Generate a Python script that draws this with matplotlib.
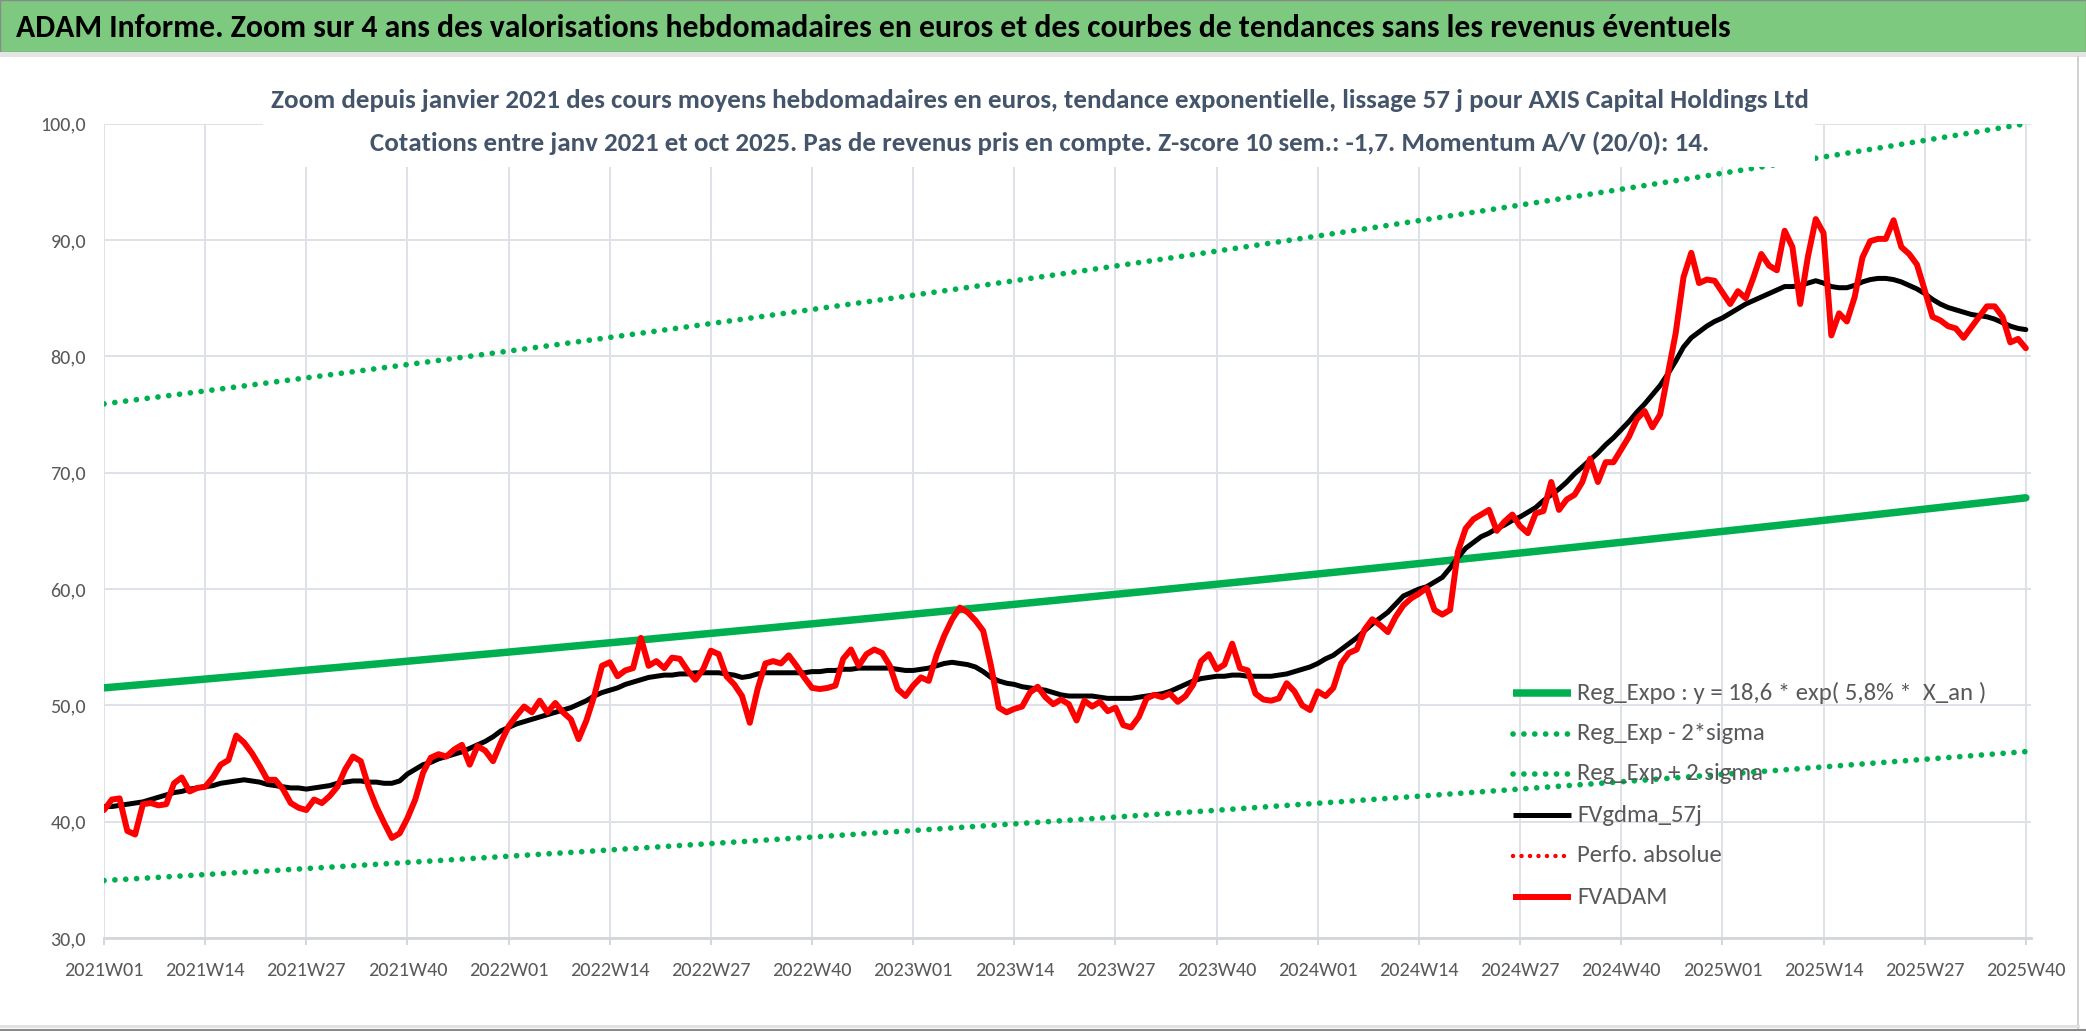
import numpy as np
import matplotlib
matplotlib.use("Agg")
import matplotlib.pyplot as plt
from matplotlib import font_manager
from matplotlib.patches import Rectangle
from matplotlib.lines import Line2D

# ---------------- data ----------------
title = ("ADAM Informe. Zoom sur 4 ans des valorisations hebdomadaires en euros "
         "et des courbes de tendances sans les revenus éventuels")
subtitle1 = ("Zoom depuis janvier 2021 des cours moyens hebdomadaires en euros, tendance "
             "exponentielle, lissage 57 j pour AXIS Capital Holdings Ltd")
subtitle2 = ("Cotations entre janv 2021 et oct 2025. Pas de revenus pris en compte. "
             "Z-score 10 sem.: -1,7. Momentum A/V (20/0): 14.")

tick_labels = ["2021W01", "2021W14", "2021W27", "2021W40",
               "2022W01", "2022W14", "2022W27", "2022W40",
               "2023W01", "2023W14", "2023W27", "2023W40",
               "2024W01", "2024W14", "2024W27", "2024W40",
               "2025W01", "2025W14", "2025W27", "2025W40"]
weeks_per_year = 52
tick_step = 13

legend_labels = ["Reg_Expo : y = 18,6 * exp( 5,8% *  X_an )",
                 "Reg_Exp - 2*sigma",
                 "Reg_Exp + 2 sigma",
                 "FVgdma_57j",
                 "Perfo. absolue",
                 "FVADAM"]

# regression parameters (from the chart's legend equation)
reg_a = 18.6
reg_rate = 0.058
reg_x0_years = 17.56      # X_an at 2021W01
reg_sigma = 0.194         # log-sigma of the bands

fvadam = [
    41.0, 41.9, 42.0, 39.2, 38.9, 41.5, 41.6, 41.4, 41.5, 43.3,
    43.8, 42.6, 42.9, 43.0, 43.8, 44.9, 45.3, 47.4, 46.8, 45.9,
    44.8, 43.6, 43.6, 42.8, 41.6, 41.2, 41.0, 41.9, 41.6, 42.2,
    43.0, 44.5, 45.6, 45.2, 43.0, 41.3, 39.9, 38.6, 39.0, 40.3,
    41.9, 44.2, 45.5, 45.8, 45.6, 46.2, 46.6, 44.9, 46.5, 46.1,
    45.2, 46.8, 48.2, 49.1, 49.9, 49.4, 50.4, 49.4, 50.2, 49.4,
    48.8, 47.1, 48.7, 50.8, 53.4, 53.7, 52.5, 53.0, 53.2, 55.8,
    53.4, 53.8, 53.2, 54.1, 54.0, 53.0, 52.2, 53.1, 54.7, 54.4,
    52.5, 51.8, 50.8, 48.5, 51.4, 53.6, 53.8, 53.6, 54.3, 53.4,
    52.4, 51.5, 51.4, 51.5, 51.7, 54.0, 54.8, 53.4, 54.4, 54.8,
    54.5, 53.4, 51.4, 50.8, 51.7, 52.4, 52.1, 54.3, 56.0, 57.4,
    58.4, 58.0, 57.3, 56.4, 53.4, 49.8, 49.4, 49.7, 49.9, 51.1,
    51.6, 50.7, 50.1, 50.5, 50.1, 48.7, 50.4, 49.9, 50.3, 49.5,
    49.8, 48.3, 48.1, 49.0, 50.6, 50.9, 50.7, 51.0, 50.3, 50.8,
    51.8, 53.8, 54.4, 53.1, 53.5, 55.3, 53.2, 53.0, 51.0, 50.5,
    50.4, 50.6, 51.9, 51.2, 50.0, 49.6, 51.2, 50.8, 51.5, 53.6,
    54.5, 54.8, 56.5, 57.4, 56.9, 56.3, 57.6, 58.6, 59.2, 59.6,
    60.1, 58.2, 57.8, 58.2, 63.2, 65.2, 66.0, 66.4, 66.8, 65.0,
    65.8, 66.4, 65.4, 64.8, 66.5, 66.7, 69.2, 66.8, 67.7, 68.1,
    69.2, 71.2, 69.2, 70.9, 70.9, 72.0, 73.1, 74.6, 75.3, 73.9,
    75.0, 78.5, 82.0, 86.8, 88.9, 86.3, 86.6, 86.5, 85.5, 84.5,
    85.6, 85.0, 86.8, 88.8, 87.8, 87.4, 90.8, 89.4, 84.5, 88.6,
    91.8, 90.6, 81.8, 83.7, 83.0, 85.1, 88.5, 89.9, 90.1, 90.1,
    91.7, 89.4, 88.8, 87.9, 85.7, 83.4, 83.1, 82.6, 82.4, 81.6,
    82.5, 83.4, 84.3, 84.3, 83.4, 81.2, 81.5, 80.7,
]

fvgdma_57j = [
    41.3, 41.3, 41.4, 41.5, 41.6, 41.7, 41.9, 42.1, 42.3, 42.5,
    42.6, 42.8, 42.9, 43.0, 43.1, 43.3, 43.4, 43.5, 43.6, 43.5,
    43.4, 43.2, 43.1, 43.0, 42.9, 42.9, 42.8, 42.9, 43.0, 43.1,
    43.3, 43.4, 43.5, 43.5, 43.4, 43.4, 43.3, 43.3, 43.5, 44.1,
    44.5, 44.9, 45.1, 45.4, 45.6, 45.8, 46.0, 46.3, 46.6, 46.9,
    47.3, 47.8, 48.1, 48.4, 48.6, 48.8, 49.0, 49.2, 49.4, 49.6,
    49.8, 50.1, 50.4, 50.8, 51.1, 51.3, 51.5, 51.8, 52.0, 52.2,
    52.4, 52.5, 52.6, 52.6, 52.7, 52.7, 52.8, 52.8, 52.8, 52.8,
    52.7, 52.6, 52.4, 52.5, 52.7, 52.8, 52.8, 52.8, 52.8, 52.8,
    52.8, 52.9, 52.9, 53.0, 53.0, 53.1, 53.1, 53.2, 53.2, 53.2,
    53.2, 53.2, 53.1, 53.0, 53.0, 53.1, 53.2, 53.4, 53.6, 53.7,
    53.6, 53.5, 53.3, 52.9, 52.4, 52.1, 51.9, 51.8, 51.6, 51.5,
    51.4, 51.3, 51.1, 50.9, 50.8, 50.8, 50.8, 50.8, 50.7, 50.6,
    50.6, 50.6, 50.6, 50.7, 50.8, 50.9, 51.0, 51.2, 51.5, 51.8,
    52.1, 52.3, 52.4, 52.5, 52.5, 52.6, 52.6, 52.5, 52.5, 52.5,
    52.5, 52.6, 52.7, 52.9, 53.1, 53.3, 53.6, 54.0, 54.3, 54.8,
    55.3, 55.8, 56.4, 57.0, 57.5, 58.0, 58.7, 59.4, 59.7, 60.0,
    60.2, 60.6, 61.0, 61.8, 62.7, 63.5, 64.0, 64.5, 64.8, 65.2,
    65.5, 65.9, 66.2, 66.6, 67.0, 67.6, 68.1, 68.6, 69.2, 69.9,
    70.5, 71.1, 71.7, 72.4, 73.0, 73.7, 74.4, 75.2, 75.9, 76.7,
    77.5, 78.5, 79.6, 80.8, 81.6, 82.1, 82.6, 83.0, 83.3, 83.7,
    84.1, 84.5, 84.8, 85.1, 85.4, 85.7, 86.0, 86.0, 86.1, 86.3,
    86.5, 86.3, 86.0, 85.9, 85.9, 86.1, 86.4, 86.6, 86.7, 86.7,
    86.6, 86.4, 86.1, 85.8, 85.4, 84.9, 84.5, 84.2, 84.0, 83.8,
    83.6, 83.5, 83.4, 83.2, 82.9, 82.6, 82.4, 82.3,
]

y_ticks = [30, 40, 50, 60, 70, 80, 90, 100]

# ---------------- styling ----------------
W, H = 2086, 1031
GREEN = "#00B050"
RED = "#FF0000"
GRID = "#DEE2E8"
TXT = "#595959"
SUBTXT = "#44546A"

available = {f.name for f in font_manager.fontManager.ttflist}
FAM = next(f for f in ["Carlito", "Liberation Sans Narrow", "Liberation Sans", "DejaVu Sans"]
           if f in available)
plt.rcParams["font.family"] = [FAM, "DejaVu Sans"]

fig = plt.figure(figsize=(W / 100, H / 100), dpi=100)
renderer = fig.canvas.get_renderer()


def fx(px):
    return px / W


def fy(py):
    return 1 - py / H


def fit_size(s, target_px, weight="normal", base=20.0):
    t = fig.text(0, 0, s, fontsize=base, weight=weight)
    w = t.get_window_extent(renderer).width
    t.remove()
    return base * target_px / w


# ---------------- axes ----------------
n = len(fvadam)
weeks = np.arange(n)
x_an = reg_x0_years + weeks / weeks_per_year
reg = reg_a * np.exp(reg_rate * x_an)
reg_lo = reg * np.exp(-2 * reg_sigma)
reg_hi = reg * np.exp(2 * reg_sigma)

ax = fig.add_axes([fx(104), fy(938), fx(2030.5) - fx(104), fy(123.7) - fy(938)])
ax.set_xlim(0, 247.6)
ax.set_ylim(30, 100)

dot = (0, (0.01, 1.9))
ax.plot(weeks, reg, color=GREEN, lw=5.4, solid_capstyle="round", zorder=3)
ax.plot(weeks, reg_lo, color=GREEN, lw=4.1, ls=dot, dash_capstyle="round", zorder=3)
ax.plot(weeks, reg_hi, color=GREEN, lw=4.1, ls=dot, dash_capstyle="round", zorder=3)
ax.plot(weeks, fvgdma_57j, color="black", lw=3.6, solid_joinstyle="round",
        solid_capstyle="round", zorder=4)
ax.plot(weeks, fvadam, color=RED, lw=4.3, solid_joinstyle="round",
        solid_capstyle="round", zorder=5)

xt = list(range(0, n, tick_step))
ax.set_xticks(xt)
ax.set_xticklabels(tick_labels[:len(xt)])
ax.set_yticks(y_ticks)
ax.set_yticklabels([f"{v:.1f}".replace(".", ",") for v in y_ticks])
ax.grid(True, color=GRID, lw=1.4, zorder=0)
ax.set_axisbelow(True)
for s in ["top", "right", "left"]:
    ax.spines[s].set_visible(False)
ax.spines["bottom"].set_color("#D3D7DD")
ax.spines["bottom"].set_linewidth(2.0)

fs_x = fit_size("2021W01", 80)
fs_y = fit_size("100,0", 46)
ax.tick_params(axis="x", length=5, width=1.4, color="#D3D7DD", pad=12,
               labelsize=fs_x, labelcolor=TXT)
ax.tick_params(axis="y", length=0, pad=13, labelsize=fs_y, labelcolor=TXT)

# ---------------- title bar & frame ----------------
fig.add_artist(Rectangle((0, fy(52)), 1, 52 / H, transform=fig.transFigure,
                         facecolor="#7DC97F", edgecolor="#8A8A8A", lw=1, zorder=1))
fig.add_artist(Rectangle((0, fy(57)), 1, 5 / H, transform=fig.transFigure,
                         facecolor="#E4E4E4", edgecolor="none", zorder=1))
fig.add_artist(Line2D([fx(2078), fx(2078)], [fy(57), 0], transform=fig.transFigure,
                      color="#C8C8C8", lw=1.2))
fig.add_artist(Line2D([0, fx(2078)], [fy(1026), fy(1026)], transform=fig.transFigure,
                      color="#E0E0E0", lw=2))
fig.add_artist(Line2D([0, 1], [fy(1030), fy(1030)], transform=fig.transFigure,
                      color="#8A8A8A", lw=1.5))

fs_t = fit_size(title, 1716, weight="bold")
fig.text(fx(16), fy(28), title, ha="left", va="center", weight="bold",
         color="black", fontsize=fs_t, zorder=6)

# subtitle box (white background hiding gridlines)
fig.add_artist(Rectangle((fx(263), fy(167)), fx(1815) - fx(263), fy(62) - fy(167),
                         transform=fig.transFigure, facecolor="white",
                         edgecolor="none", zorder=5))
fs_s1 = fit_size(subtitle1, 1539, weight="bold")
fs_s2 = fit_size(subtitle2, 1340, weight="bold")
fig.text(fx(1040), fy(100), subtitle1, ha="center", va="center", weight="bold",
         color=SUBTXT, fontsize=fs_s1, zorder=6)
fig.text(fx(1040), fy(143), subtitle2, ha="center", va="center", weight="bold",
         color=SUBTXT, fontsize=fs_s2, zorder=6)

# ---------------- legend (manual, inside the plot) ----------------
fs_l = fit_size(legend_labels[0], 409)
rows = [693, 734, 774, 815, 856, 897]
styles = [dict(color=GREEN, lw=5.4, ls="-", solid_capstyle="butt"),
          dict(color=GREEN, lw=4.1, ls=dot, dash_capstyle="round"),
          dict(color=GREEN, lw=4.1, ls=dot, dash_capstyle="round"),
          dict(color="black", lw=3.6, ls="-", solid_capstyle="butt"),
          dict(color=RED, lw=3.2, ls=dot, dash_capstyle="round"),
          dict(color=RED, lw=4.3, ls="-", solid_capstyle="butt")]
for y, lab, st in zip(rows, legend_labels, styles):
    fig.add_artist(Line2D([fx(1513), fx(1571)], [fy(y), fy(y)],
                          transform=fig.transFigure, zorder=7, **st))
    fig.text(fx(1577), fy(y), lab, ha="left", va="center", color=TXT,
             fontsize=fs_l, zorder=7)

fig.savefig("out.png", dpi=100, facecolor="white")
